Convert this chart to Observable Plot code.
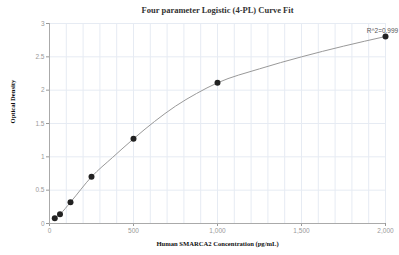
<!DOCTYPE html>
<html><head><meta charset="utf-8">
<script src="https://cdn.jsdelivr.net/npm/d3@7"></script>
<script src="https://cdn.jsdelivr.net/npm/@observablehq/plot@0.6"></script>
<style>body{margin:0;background:#fff}</style>
</head><body><div id="chart"></div>
<script>
const concentrations = [31.25, 62.5, 125, 250, 500, 1000, 2000];
const odValues = [0.08, 0.14, 0.32, 0.70, 1.27, 2.11, 2.805];
// fitted curve
const curveX = [31.25, 62.5, 125, 250, 375, 500, 625, 750, 875, 1000, 1250, 1500, 1750, 2000];
const curveY = [0.08, 0.14, 0.32, 0.70, 0.99, 1.27, 1.53, 1.76, 1.95, 2.11, 2.32, 2.50, 2.66, 2.805];
const xTicks = [0, 500, 1000, 1500, 2000];
const yTicks = [0, 0.5, 1, 1.5, 2, 2.5, 3];
const titleText = "Four parameter Logistic (4-PL) Curve Fit";
const xLabel = "Human SMARCA2 Concentration (pg/mL)";
const yLabel = "Optical Density";
const r2Label = "R^2=0.999";

const data = concentrations.map((c, i) => ({x: c, y: odValues[i]}));
const curve = curveX.map((c, i) => ({x: c, y: curveY[i]}));
const serif = "'Liberation Serif', 'Times New Roman', serif";
const gridColor = "#e6ebf3";

const chart = Plot.plot({
  width: 399, height: 255,
  marginLeft: 49, marginRight: 14, marginTop: 23, marginBottom: 32,
  style: {fontFamily: "Arial, 'Liberation Sans', sans-serif", fontSize: "6.5px", color: "#999", background: "#fff"},
  x: {domain: [0, 2000], label: null, ticks: xTicks, tickFormat: d3.format(","), tickSize: 3, tickPadding: 2},
  y: {domain: [0, 3], label: null, ticks: yTicks, tickFormat: d => String(d), tickSize: 3, tickPadding: 2},
  marks: [
    Plot.ruleX(d3.range(100, 2001, 100), {stroke: gridColor, strokeWidth: 1}),
    Plot.ruleY(d3.range(0.5, 3.01, 0.5), {stroke: gridColor, strokeWidth: 1}),
    Plot.ruleX([0], {stroke: "#aaa"}),
    Plot.ruleY([0], {stroke: "#aaa"}),
    Plot.line(curve, {x: "x", y: "y", curve: "monotone-x", stroke: "#999", strokeWidth: 1}),
    Plot.dot(data, {x: "x", y: "y", r: 3, fill: "#222", stroke: "none"}),
    Plot.text([r2Label], {x: [2000], y: [odValues[odValues.length - 1]], dy: -6, dx: -3, fill: "#555", fontSize: 6.5, textAnchor: "middle"}),
    Plot.text([titleText], {frameAnchor: "top", dy: -13, lineAnchor: "middle", fontFamily: serif, fontWeight: "bold", fontSize: 8.5, fill: "#333"}),
    Plot.text([xLabel], {frameAnchor: "bottom", dy: 20, lineAnchor: "middle", fontFamily: serif, fontWeight: "bold", fontSize: 6.6, fill: "#111"}),
    Plot.text([yLabel], {frameAnchor: "left", dx: -37, rotate: -90, lineAnchor: "middle", fontFamily: serif, fontWeight: "bold", fontSize: 6.6, fill: "#111"})
  ]
});
document.getElementById("chart").appendChild(chart);
</script>
</body></html>
